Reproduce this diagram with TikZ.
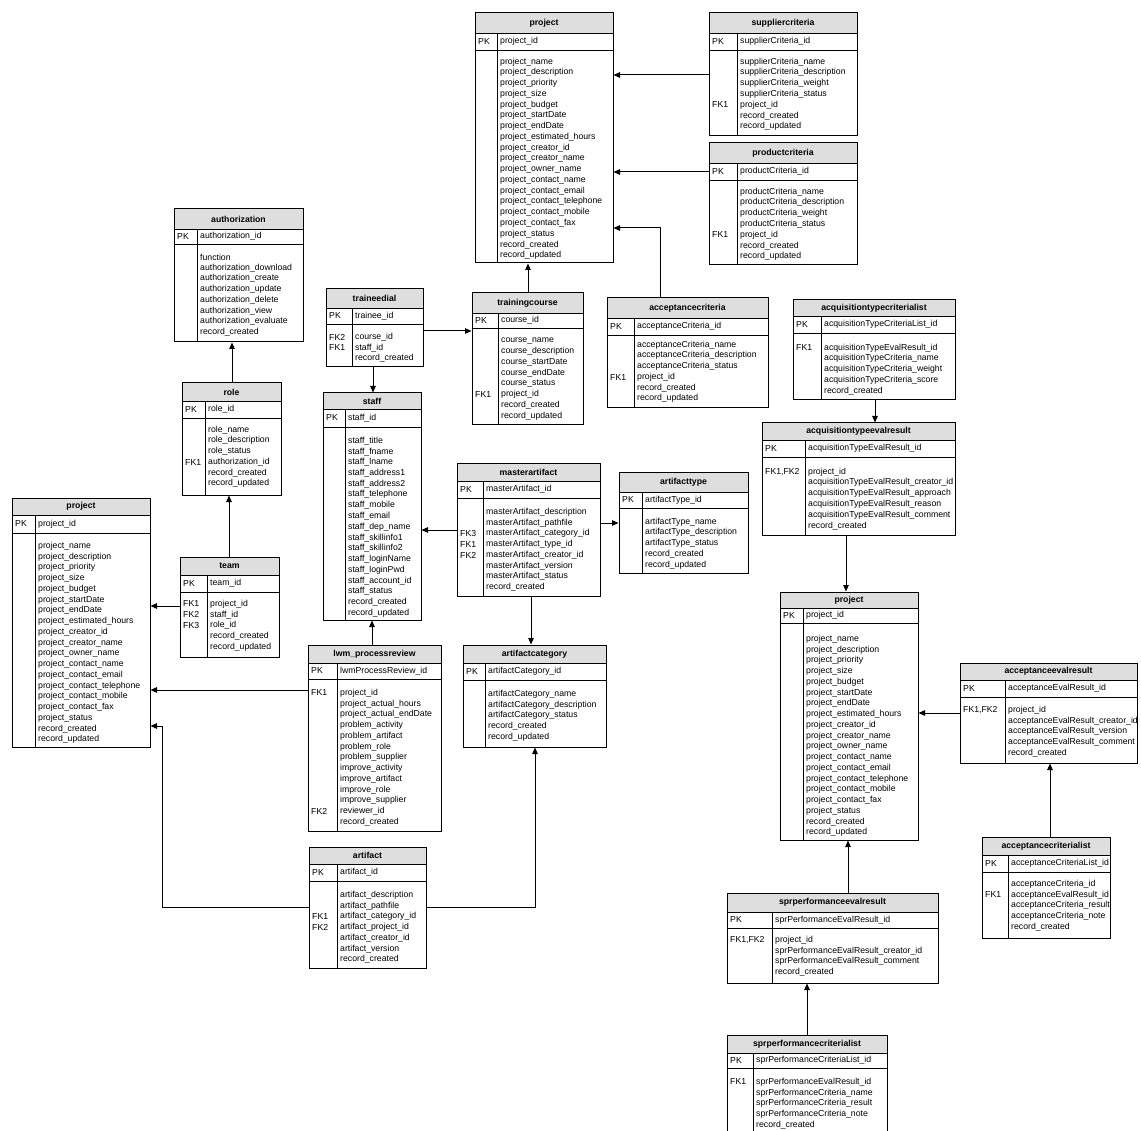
\documentclass[tikz,border=0pt]{standalone}
\usepackage{fontspec}
\setmainfont{Liberation Sans}
\usetikzlibrary{arrows.meta,fit}
\tikzset{
  tblbox/.style={draw, line width=1pt, inner sep=0pt},
  hdr/.style={fill=black!13},
  sep/.style={line width=0.9pt},
  fld/.style={anchor=west, inner sep=0pt, font=\fontsize{8.7}{10}\selectfont},
  ttl/.style={inner sep=0pt, font=\fontsize{8.7}{10}\selectfont\bfseries},
  rel/.style={line width=1pt, -{Triangle[length=6.5pt,width=5.5pt]}},
}
% name, left, top, right, bottom, header bottom, pk bottom, divider x, title
\newcommand\erdbox[9]{%
  \fill[hdr] (#2,#3) rectangle (#4,#6);
  \node[tblbox, fit={(#2,#3) (#4,#5)}] (#1) {};
  \draw[sep] (#2,#6) -- (#4,#6);
  \draw[sep] (#2,#7) -- (#4,#7);
  \draw[sep] (#8,#6) -- (#8,#5);
  \node[ttl] (#1-t) at ({(#2+#4)/2},{(#3+#6)/2}) {#9};
}
% name, left, divider x, y, pk text
\newcommand\erdpk[5]{%
  \node[fld] (#1-pk) at (#2+3,#4) {PK};
  \node[fld] (#1-id) at (#3+3,#4) {#5};
}
% name, left, divider x, first y, list key/text
\newcommand\erdrows[5]{%
  \foreach[count=\i] \k/\t in #5 {
    \node[fld] (#1-f\i) at (#3+3,{#4+(\i-1)*10.75}) {\t};
    \node[fld] (#1-k\i) at (#2+3,{#4+(\i-1)*10.75}) {\k};
  }
}
\begin{document}
\catcode`\_=12
\def\projlist{{}/project_name,{}/project_description,{}/project_priority,{}/project_size,{}/project_budget,{}/project_startDate,{}/project_endDate,{}/project_estimated_hours,{}/project_creator_id,{}/project_creator_name,{}/project_owner_name,{}/project_contact_name,{}/project_contact_email,{}/project_contact_telephone,{}/project_contact_mobile,{}/project_contact_fax,{}/project_status,{}/record_created,{}/record_updated}
\begin{tikzpicture}[x=1pt,y=-1pt]
\useasboundingbox[fill=white] (0,0) rectangle (1141,1131);

% ---------- top project
\erdbox{p1}{475}{13}{613}{263}{33}{50}{497}{project}
\erdpk{p1}{475}{497}{41.5}{project_id}
\erdrows{p1}{475}{497}{62}{\projlist}

% ---------- suppliercriteria
\erdbox{sc}{709}{13}{857}{136}{33}{50}{737}{suppliercriteria}
\erdpk{sc}{709}{737}{41.5}{supplierCriteria_id}
\erdrows{sc}{709}{737}{62}{{{}/supplierCriteria_name,{}/supplierCriteria_description,{}/supplierCriteria_weight,{}/supplierCriteria_status,FK1/project_id,{}/record_created,{}/record_updated}}

% ---------- productcriteria
\erdbox{pc}{709}{143}{857}{265}{163}{180}{737}{productcriteria}
\erdpk{pc}{709}{737}{171.5}{productCriteria_id}
\erdrows{pc}{709}{737}{192}{{{}/productCriteria_name,{}/productCriteria_description,{}/productCriteria_weight,{}/productCriteria_status,FK1/project_id,{}/record_created,{}/record_updated}}

% ---------- authorization
\erdbox{auth}{174}{209}{303}{342}{229}{244}{197}{authorization}
\erdpk{auth}{174}{197}{236.5}{authorization_id}
\erdrows{auth}{174}{197}{257}{{{}/function,{}/authorization_download,{}/authorization_create,{}/authorization_update,{}/authorization_delete,{}/authorization_view,{}/authorization_evaluate,{}/record_created}}

% ---------- traineedial
\erdbox{td}{326}{289}{423}{367}{308}{324}{352}{traineedial}
\erdpk{td}{326}{352}{316}{trainee_id}
\erdrows{td}{326}{352}{337}{{FK2/course_id,FK1/staff_id,{}/record_created}}

% ---------- trainingcourse
\erdbox{tc}{472}{293}{583}{425}{313}{328}{498}{trainingcourse}
\erdpk{tc}{472}{498}{320.5}{course_id}
\erdrows{tc}{472}{498}{341}{{{}/course_name,{}/course_description,{}/course_startDate,{}/course_endDate,{}/course_status,FK1/project_id,{}/record_created,{}/record_updated}}

% ---------- acceptancecriteria
\erdbox{ac}{607}{298}{768}{408}{318}{335}{634}{acceptancecriteria}
\erdpk{ac}{607}{634}{326.5}{acceptanceCriteria_id}
\erdrows{ac}{607}{634}{345}{{{}/acceptanceCriteria_name,{}/acceptanceCriteria_description,{}/acceptanceCriteria_status,FK1/project_id,{}/record_created,{}/record_updated}}

% ---------- acquisitiontypecriterialist
\erdbox{acl}{793}{300}{955}{400}{316}{333}{821}{acquisitiontypecriterialist}
\erdpk{acl}{793}{821}{324.5}{acquisitionTypeCriteriaList_id}
\erdrows{acl}{793}{821}{348}{{FK1/acquisitionTypeEvalResult_id,{}/acquisitionTypeCriteria_name,{}/acquisitionTypeCriteria_weight,{}/acquisitionTypeCriteria_score,{}/record_created}}

% ---------- role
\erdbox{role}{182}{383}{281}{495}{401}{418}{205}{role}
\erdpk{role}{182}{205}{409.5}{role_id}
\erdrows{role}{182}{205}{430}{{{}/role_name,{}/role_description,{}/role_status,FK1/authorization_id,{}/record_created,{}/record_updated}}

% ---------- staff
\erdbox{st}{323}{393}{421}{620}{409}{427}{345}{staff}
\erdpk{st}{323}{345}{418}{staff_id}
\erdrows{st}{323}{345}{441}{{{}/staff_title,{}/staff_fname,{}/staff_lname,{}/staff_address1,{}/staff_address2,{}/staff_telephone,{}/staff_mobile,{}/staff_email,{}/staff_dep_name,{}/staff_skillinfo1,{}/staff_skillinfo2,{}/staff_loginName,{}/staff_loginPwd,{}/staff_account_id,{}/staff_status,{}/record_created,{}/record_updated}}

% ---------- masterartifact
\erdbox{ma}{457}{464}{600}{596}{481}{498}{483}{masterartifact}
\erdpk{ma}{457}{483}{489.5}{masterArtifact_id}
\erdrows{ma}{457}{483}{512}{{{}/masterArtifact_description,{}/masterArtifact_pathfile,FK3/masterArtifact_category_id,FK1/masterArtifact_type_id,FK2/masterArtifact_creator_id,{}/masterArtifact_version,{}/masterArtifact_status,{}/record_created}}

% ---------- artifacttype
\erdbox{at}{619}{473}{748}{573}{492}{508}{642}{artifacttype}
\erdpk{at}{619}{642}{500}{artifactType_id}
\erdrows{at}{619}{642}{522}{{{}/artifactType_name,{}/artifactType_description,{}/artifactType_status,{}/record_created,{}/record_updated}}

% ---------- acquisitiontypeevalresult
\erdbox{aer}{762}{423}{955}{535}{440}{457}{805}{acquisitiontypeevalresult}
\erdpk{aer}{762}{805}{448.5}{acquisitionTypeEvalResult_id}
\erdrows{aer}{762}{805}{472}{{{FK1,FK2}/project_id,{}/acquisitionTypeEvalResult_creator_id,{}/acquisitionTypeEvalResult_approach,{}/acquisitionTypeEvalResult_reason,{}/acquisitionTypeEvalResult_comment,{}/record_created}}

% ---------- left project
\erdbox{p2}{12}{498}{150}{747}{515}{533}{35}{project}
\erdpk{p2}{12}{35}{524}{project_id}
\erdrows{p2}{12}{35}{546}{\projlist}

% ---------- team
\erdbox{team}{180}{557}{279}{657}{575}{592}{207}{team}
\erdpk{team}{180}{207}{583.5}{team_id}
\erdrows{team}{180}{207}{604}{{FK1/project_id,FK2/staff_id,FK3/role_id,{}/record_created,{}/record_updated}}

% ---------- lwm_processreview
\erdbox{lwm}{308}{645}{441}{831}{663}{679}{337}{lwm_processreview}
\erdpk{lwm}{308}{337}{671}{lwmProcessReview_id}
\erdrows{lwm}{308}{337}{693}{{FK1/project_id,{}/project_actual_hours,{}/project_actual_endDate,{}/problem_activity,{}/problem_artifact,{}/problem_role,{}/problem_supplier,{}/improve_activity,{}/improve_artifact,{}/improve_role,{}/improve_supplier,FK2/reviewer_id,{}/record_created}}

% ---------- artifactcategory
\erdbox{acat}{463}{645}{606}{747}{663}{680}{485}{artifactcategory}
\erdpk{acat}{463}{485}{671.5}{artifactCategory_id}
\erdrows{acat}{463}{485}{694}{{{}/artifactCategory_name,{}/artifactCategory_description,{}/artifactCategory_status,{}/record_created,{}/record_updated}}

% ---------- right project
\erdbox{p3}{780}{592}{918}{840}{608}{623}{803}{project}
\erdpk{p3}{780}{803}{615.5}{project_id}
\erdrows{p3}{780}{803}{639}{\projlist}

% ---------- acceptanceevalresult
\erdbox{aevr}{960}{663}{1137}{763}{680}{697}{1005}{acceptanceevalresult}
\erdpk{aevr}{960}{1005}{688.5}{acceptanceEvalResult_id}
\erdrows{aevr}{960}{1005}{710}{{{FK1,FK2}/project_id,{}/acceptanceEvalResult_creator_id,{}/acceptanceEvalResult_version,{}/acceptanceEvalResult_comment,{}/record_created}}

% ---------- acceptancecriterialist
\erdbox{accl}{982}{837}{1110}{938}{855}{872}{1008}{acceptancecriterialist}
\erdpk{accl}{982}{1008}{863.5}{acceptanceCriteriaList_id}
\erdrows{accl}{982}{1008}{884}{{{}/acceptanceCriteria_id,FK1/acceptanceEvalResult_id,{}/acceptanceCriteria_result,{}/acceptanceCriteria_note,{}/record_created}}

% ---------- artifact
\erdbox{art}{309}{847}{426}{968}{864}{881}{337}{artifact}
\erdpk{art}{309}{337}{872.5}{artifact_id}
\erdrows{art}{309}{337}{895}{{{}/artifact_description,{}/artifact_pathfile,FK1/artifact_category_id,FK2/artifact_project_id,{}/artifact_creator_id,{}/artifact_version,{}/record_created}}

% ---------- sprperformanceevalresult
\erdbox{spr}{727}{893}{938}{983}{912}{928}{772}{sprperformanceevalresult}
\erdpk{spr}{727}{772}{920}{sprPerformanceEvalResult_id}
\erdrows{spr}{727}{772}{940}{{{FK1,FK2}/project_id,{}/sprPerformanceEvalResult_creator_id,{}/sprPerformanceEvalResult_comment,{}/record_created}}

% ---------- sprperformancecriterialist
\erdbox{sprcl}{727}{1035}{887}{1138}{1053}{1068}{753}{sprperformancecriterialist}
\erdpk{sprcl}{727}{753}{1060.5}{sprPerformanceCriteriaList_id}
\erdrows{sprcl}{727}{753}{1082}{{FK1/sprPerformanceEvalResult_id,{}/sprPerformanceCriteria_name,{}/sprPerformanceCriteria_result,{}/sprPerformanceCriteria_note,{}/record_created}}

% ---------- connectors
\draw[rel] (sc.west |- 0,75) -- (p1.east |- 0,75);
\draw[rel] (pc.west |- 0,172) -- (p1.east |- 0,172);
\draw[rel] (ac.north -| 660,0) |- (p1.east |- 0,228);
\draw[rel] (tc.north -| 528,0) -- (p1.south -| 528,0);
\draw[rel] (td.east |- 0,331) -- (tc.west |- 0,331);
\draw[rel] (td.south -| 373,0) -- (st.north -| 373,0);
\draw[rel] (role.north -| 232,0) -- (auth.south -| 232,0);
\draw[rel] (team.north -| 229,0) -- (role.south -| 229,0);
\draw[rel] (team.west |- 0,606) -- (p2.east |- 0,606);
\draw[rel] (ma.west |- 0,530) -- (st.east |- 0,530);
\draw[rel] (ma.east |- 0,523) -- (at.west |- 0,523);
\draw[rel] (ma.south -| 531,0) -- (acat.north -| 531,0);
\draw[rel] (lwm.north -| 372,0) -- (st.south -| 372,0);
\draw[rel] (lwm.west |- 0,690) -- (p2.east |- 0,690);
\coordinate (c1) at (162,726);
\draw[rel] (art.west |- 0,907) -| (c1) -- (p2.east |- c1);
\draw[rel] (art.east |- 0,907) -| (acat.south -| 535,0);
\draw[rel] (acl.south -| 875,0) -- (aer.north -| 875,0);
\draw[rel] (aer.south -| 846,0) -- (p3.north -| 846,0);
\draw[rel] (aevr.west |- 0,713) -- (p3.east |- 0,713);
\draw[rel] (accl.north -| 1050,0) -- (aevr.south -| 1050,0);
\draw[rel] (spr.north -| 848,0) -- (p3.south -| 848,0);
\draw[rel] (sprcl.north -| 807,0) -- (spr.south -| 807,0);
\end{tikzpicture}
\end{document}
